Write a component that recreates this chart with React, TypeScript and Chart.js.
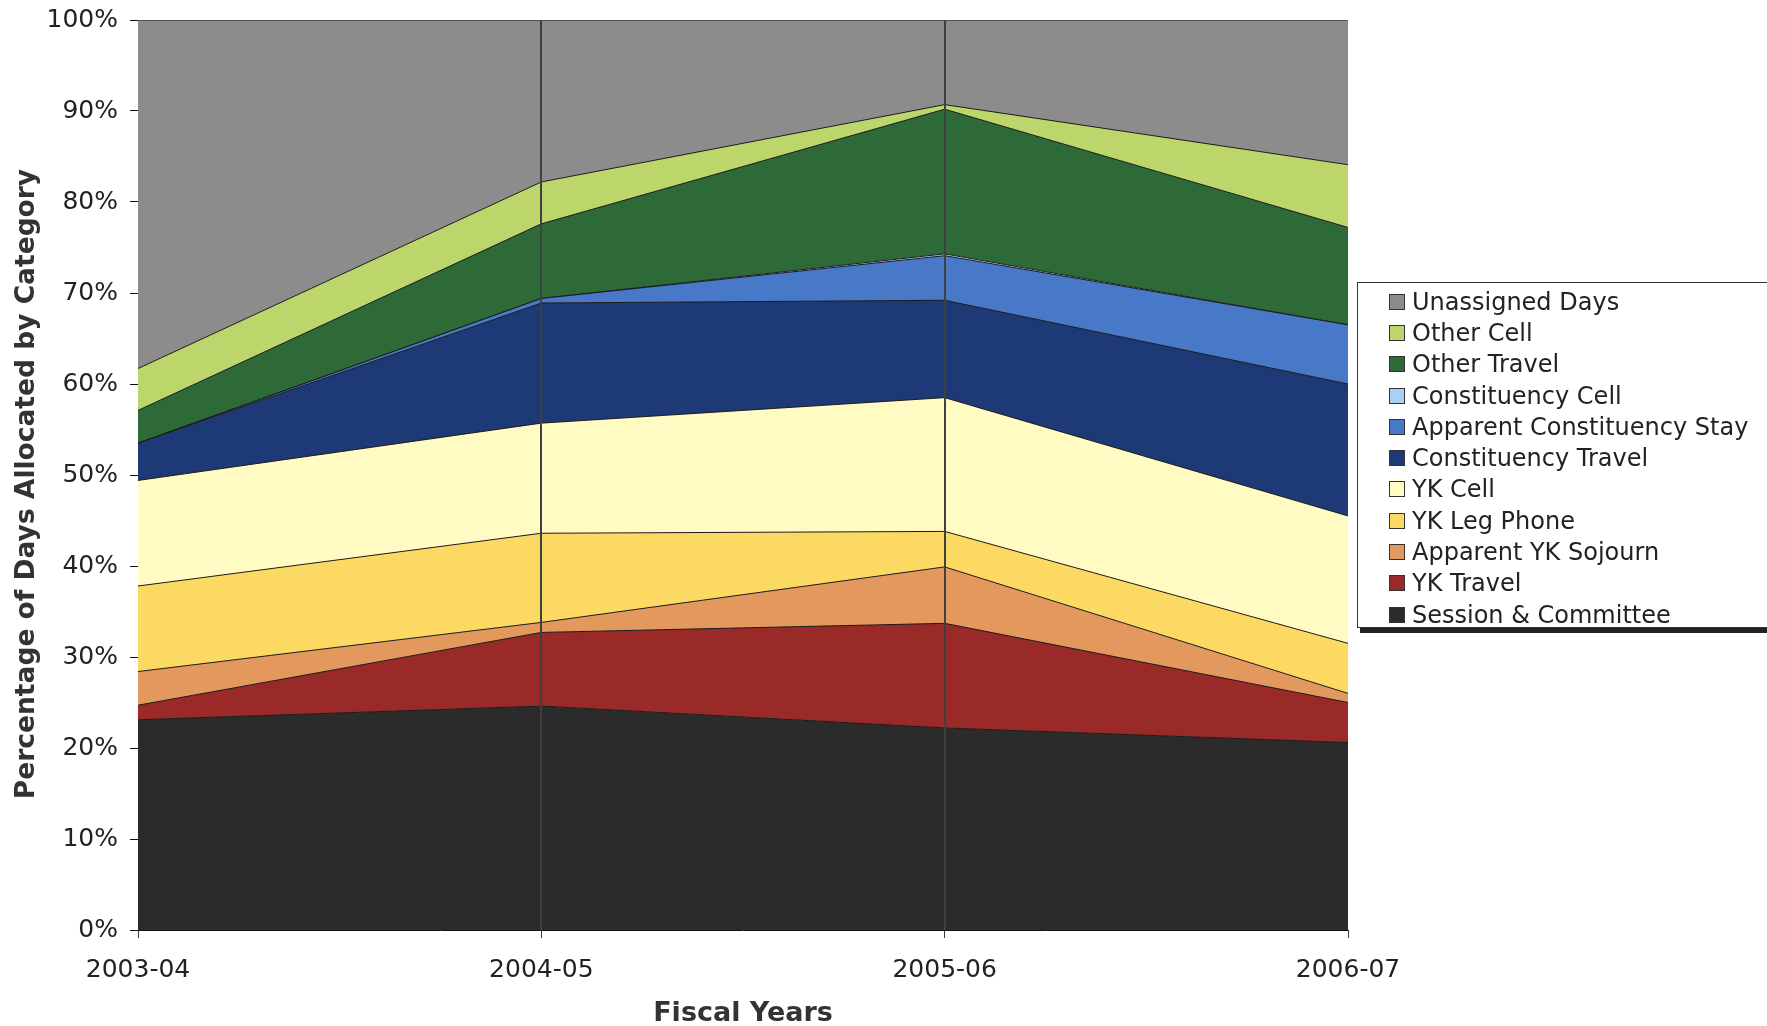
import React, { useEffect, useRef } from "react";
import { Chart, registerables } from "chart.js";

Chart.register(...registerables);

const categories = ["2003-04", "2004-05", "2005-06", "2006-07"];

const sessionCommittee = [23.1, 24.6, 22.2, 20.6];
const ykTravel = [1.6, 8.1, 11.5, 4.4];
const apparentYkSojourn = [3.7, 1.1, 6.2, 1.0];
const ykLegPhone = [9.4, 9.8, 3.9, 5.5];
const ykCell = [11.6, 12.1, 14.7, 14.0];
const constituencyTravel = [4.1, 13.2, 10.7, 14.5];
const apparentConstituencyStay = [0.0, 0.5, 4.9, 6.5];
const constituencyCell = [0.0, 0.0, 0.2, 0.0];
const otherTravel = [3.6, 8.2, 15.9, 10.7];
const otherCell = [4.6, 4.6, 0.5, 6.9];
const unassignedDays = [38.3, 17.8, 9.3, 15.9];

const yTicks = [0, 10, 20, 30, 40, 50, 60, 70, 80, 90, 100];

const seriesNames = [
  "Session & Committee",
  "YK Travel",
  "Apparent YK Sojourn",
  "YK Leg Phone",
  "YK Cell",
  "Constituency Travel",
  "Apparent Constituency Stay",
  "Constituency Cell",
  "Other Travel",
  "Other Cell",
  "Unassigned Days",
];
const seriesValues = [
  sessionCommittee,
  ykTravel,
  apparentYkSojourn,
  ykLegPhone,
  ykCell,
  constituencyTravel,
  apparentConstituencyStay,
  constituencyCell,
  otherTravel,
  otherCell,
  unassignedDays,
];
const seriesColors = [
  "#2b2b2b",
  "#9a2a28",
  "#e3985e",
  "#fcd962",
  "#fffbc2",
  "#1d3a77",
  "#4779c8",
  "#a9d0f5",
  "#2d6a37",
  "#bcd66c",
  "#8c8c8c",
];

const FONT = "'DejaVu Sans', Verdana, sans-serif";
const Y_TITLE = "Percentage of Days Allocated by Category";

const overlayPlugin = {
  id: "overlay",
  afterDatasetsDraw(chart: any) {
    const { ctx, chartArea, scales } = chart;
    const xs = scales.x;
    ctx.save();
    ctx.strokeStyle = "#404040";
    ctx.lineWidth = 2;
    for (let i = 1; i < categories.length - 1; i++) {
      const px = Math.round(xs.getPixelForValue(i));
      ctx.beginPath();
      ctx.moveTo(px, chartArea.top);
      ctx.lineTo(px, chartArea.bottom);
      ctx.stroke();
    }
    ctx.restore();
  },
  afterDraw(chart: any) {
    const { ctx, chartArea } = chart;
    ctx.save();
    ctx.translate(27, (chartArea.top + chartArea.bottom) / 2 + 9);
    ctx.rotate(-Math.PI / 2);
    ctx.font = "bold 26.5px " + FONT;
    ctx.fillStyle = "#333";
    ctx.textAlign = "center";
    ctx.textBaseline = "middle";
    ctx.fillText(Y_TITLE, 0, 0);
    ctx.restore();
  },
};

export default function App() {
  const canvasRef = useRef<HTMLCanvasElement | null>(null);

  useEffect(() => {
    const canvas = canvasRef.current;
    if (!canvas) return;
    const datasets = seriesNames.map((name, i) => ({
      label: name,
      data: seriesValues[i],
      backgroundColor: seriesColors[i],
      borderColor: "#1a1a1a",
      borderWidth: 1,
      pointRadius: 0,
      tension: 0,
      fill: i === 0 ? "origin" : "-1",
    }));
    const chart = new Chart(canvas, {
      type: "line",
      data: { labels: categories, datasets },
      plugins: [overlayPlugin],
      options: {
        animation: false,
        responsive: false,
        devicePixelRatio: 1,
        layout: { padding: { top: 20, right: 419, left: 0, bottom: 0 } },
        plugins: {
          legend: { display: false },
          tooltip: { enabled: false },
        },
        scales: {
          x: {
            type: "category",
            offset: false,
            grid: {
              color: "#3a3a3a",
              lineWidth: 1,
              drawOnChartArea: false,
              tickLength: 8,
            },
            border: { color: "#111", width: 1 },
            ticks: {
              color: "#222",
              font: { family: FONT, size: 25 },
              padding: 17,
              maxRotation: 0,
            },
            title: {
              display: true,
              text: "Fiscal Years",
              color: "#333",
              font: { family: FONT, size: 27, weight: "bold" },
              padding: { top: 0, bottom: -4 },
            },
            afterFit: (s: any) => {
              s.height = 96;
              s.paddingLeft = 0;
              s.paddingRight = 0;
            },
          },
          y: {
            stacked: true,
            min: 0,
            max: 100,
            afterBuildTicks: (s: any) => {
              s.ticks = yTicks.map((v) => ({ value: v }));
            },
            grid: {
              drawOnChartArea: false,
              tickLength: 8,
              color: "#111",
            },
            border: { color: "#111", width: 1 },
            ticks: {
              color: "#222",
              font: { family: FONT, size: 25 },
              padding: 12,
              callback: (v: any) => v + "%",
            },
            title: { display: false },
            afterFit: (s: any) => {
              s.width = 138;
              s.paddingTop = 0;
              s.paddingBottom = 0;
            },
          },
        },
      },
    });
    return () => chart.destroy();
  }, []);

  const legendOrder = seriesNames.map((n, i) => i).reverse();

  return (
    <div
      style={{
        position: "fixed",
        left: 0,
        top: 0,
        width: 1767,
        height: 1026,
        background: "#fff",
        overflow: "hidden",
      }}
    >
      <canvas ref={canvasRef} width={1767} height={1026} style={{ display: "block" }} />
      <div
        style={{
          position: "absolute",
          left: 1357,
          top: 282,
          width: 440,
          height: 346,
          border: "1px solid #333",
          background: "#fff",
          boxShadow: "3px 5px 0 #222",
          boxSizing: "border-box",
          paddingTop: 3,
          fontFamily: FONT,
          fontSize: 24,
          color: "#222",
        }}
      >
        {legendOrder.map((i) => (
          <div
            key={i}
            style={{
              display: "flex",
              alignItems: "center",
              height: 31.3,
              paddingLeft: 31,
              whiteSpace: "nowrap",
            }}
          >
            <span
              style={{
                display: "inline-block",
                width: 14,
                height: 14,
                background: seriesColors[i],
                border: "1px solid #333",
                marginRight: 7,
                flex: "none",
              }}
            />
            <span>{seriesNames[i]}</span>
          </div>
        ))}
      </div>
    </div>
  );
}
